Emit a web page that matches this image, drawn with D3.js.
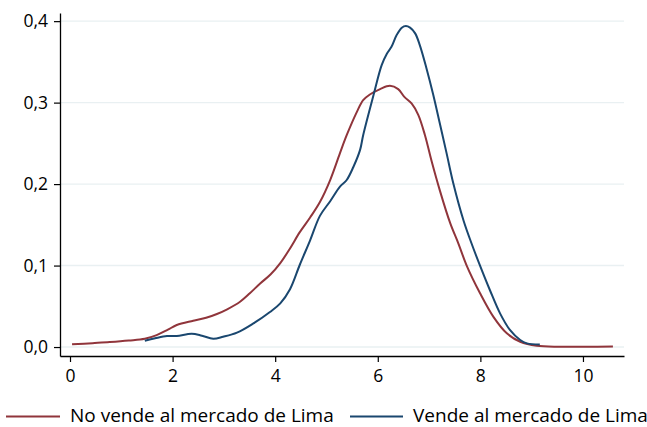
<!DOCTYPE html>
<html>
<head>
<meta charset="utf-8">
<script src="https://cdn.jsdelivr.net/npm/d3@7"></script>
<style>
  html, body { margin: 0; padding: 0; background: #ffffff; }
  svg { display: block; font-family: "Open Sans", "Noto Sans", sans-serif; }
</style>
</head>
<body>
<svg id="chart" width="647" height="427"></svg>
<script>
// Kernel density estimates: x = value, y = density
const seriesNames = ["No vende al mercado de Lima", "Vende al mercado de Lima"];
const seriesColors = ["#90353b", "#1a476f"];

const noVendeX = [0.04, 0.44, 0.775, 1.147, 1.458, 1.689, 1.900, 2.081, 2.402, 2.653, 2.864, 3.054, 3.315, 3.506,
  3.707, 3.908, 4.099, 4.289, 4.480, 4.681, 4.872, 5.072, 5.263, 5.394, 5.595, 5.715, 5.846, 6.046, 6.237,
  6.398, 6.518, 6.659, 6.789, 6.920, 7.050, 7.211, 7.412, 7.572, 7.733, 7.994, 8.255, 8.516, 8.777, 9.098,
  9.550, 10.072, 10.584];
const noVendeY = [0.0033, 0.0048, 0.0061, 0.0080, 0.0102, 0.0147, 0.021, 0.027, 0.0323, 0.036, 0.0405, 0.046,
  0.0556, 0.066, 0.078, 0.089, 0.103, 0.121, 0.141, 0.159, 0.178, 0.205, 0.238, 0.260, 0.289, 0.303, 0.310,
  0.3166, 0.3206, 0.3166, 0.307, 0.299, 0.285, 0.260, 0.228, 0.192, 0.152, 0.127, 0.100, 0.066, 0.037,
  0.0168, 0.0065, 0.0016, 0.0004, 0.0003, 0.0006];

const vendeX = [1.458, 1.659, 1.890, 2.081, 2.372, 2.572, 2.793, 2.984, 3.255, 3.576, 3.898, 4.099, 4.289,
  4.480, 4.681, 4.872, 5.072, 5.263, 5.394, 5.524, 5.655, 5.715, 5.916, 6.076, 6.177, 6.267, 6.368, 6.468,
  6.548, 6.629, 6.729, 6.819, 6.950, 7.080, 7.211, 7.341, 7.472, 7.673, 7.823, 7.974, 8.185, 8.386, 8.576,
  8.777, 8.908, 9.159];
const vendeY = [0.0077, 0.0107, 0.0135, 0.0135, 0.0163, 0.0139, 0.0102, 0.0126, 0.0176, 0.029, 0.043, 0.0536,
  0.071, 0.101, 0.131, 0.161, 0.179, 0.197, 0.205, 0.221, 0.242, 0.260, 0.309, 0.346, 0.360, 0.3685, 0.383,
  0.392, 0.394, 0.392, 0.385, 0.3706, 0.342, 0.310, 0.274, 0.238, 0.201, 0.155, 0.128, 0.103, 0.070, 0.041,
  0.021, 0.0086, 0.0045, 0.003];

const xTicks = [0, 2, 4, 6, 8, 10];
const yTicks = [0, 0.1, 0.2, 0.3, 0.4];

const series = [
  { name: seriesNames[0], color: seriesColors[0], pts: noVendeX.map((x, i) => [x, noVendeY[i]]) },
  { name: seriesNames[1], color: seriesColors[1], pts: vendeX.map((x, i) => [x, vendeY[i]]) }
];

const svg = d3.select("#chart");
const plotLeft = 60, plotRight = 624, plotTop = 13, plotBottom = 356;

const x = d3.scaleLinear().domain([-0.195, 10.8]).range([plotLeft, plotRight]);
const y = d3.scaleLinear().domain([-0.011, 0.41]).range([plotBottom, plotTop]);

const locale = d3.formatLocale({ decimal: ",", thousands: ".", grouping: [3], currency: ["", ""] });
const fmt1 = locale.format(".1f");

// horizontal grid
svg.append("g")
  .selectAll("line")
  .data(yTicks)
  .join("line")
  .attr("x1", plotLeft + 1).attr("x2", plotRight)
  .attr("y1", d => y(d)).attr("y2", d => y(d))
  .attr("stroke", "#e9f0f2")
  .attr("stroke-width", 1.4);

// density curves
const line = d3.line()
  .x(d => x(d[0]))
  .y(d => y(d[1]))
  .curve(d3.curveCatmullRom.alpha(0.5));

svg.append("g")
  .selectAll("path")
  .data(series)
  .join("path")
  .attr("d", d => line(d.pts))
  .attr("fill", "none")
  .attr("stroke", d => d.color)
  .attr("stroke-width", 2)
  .attr("stroke-linejoin", "round");

// axes
const yAxis = svg.append("g")
  .attr("transform", `translate(${plotLeft},0)`)
  .call(d3.axisLeft(y).tickValues(yTicks).tickFormat(fmt1).tickSize(6).tickSizeOuter(0).tickPadding(6));

const xAxis = svg.append("g")
  .attr("transform", `translate(0,${plotBottom})`)
  .call(d3.axisBottom(x).tickValues(xTicks).tickFormat(d3.format("d")).tickSize(6).tickSizeOuter(0).tickPadding(8));

[yAxis, xAxis].forEach(g => {
  g.selectAll("path.domain").attr("stroke", "#000").attr("stroke-width", 1.3);
  g.selectAll(".tick line").attr("stroke", "#000").attr("stroke-width", 1.2);
  g.selectAll(".tick text")
    .attr("fill", "#000")
    .style("font-family", "'Open Sans', 'Noto Sans', sans-serif")
    .style("font-size", "17.5px");
});

// legend
const legendItems = [
  { name: seriesNames[0], color: seriesColors[0], x1: 6, x2: 60, tx: 70 },
  { name: seriesNames[1], color: seriesColors[1], x1: 350, x2: 403, tx: 413 }
];
const lg = svg.append("g");
legendItems.forEach(it => {
  lg.append("line")
    .attr("x1", it.x1).attr("x2", it.x2)
    .attr("y1", 416.5).attr("y2", 416.5)
    .attr("stroke", it.color).attr("stroke-width", 2);
  lg.append("text")
    .attr("x", it.tx).attr("y", 421.5)
    .attr("fill", "#000")
    .style("font-size", "19px")
    .text(it.name);
});
</script>
</body>
</html>
